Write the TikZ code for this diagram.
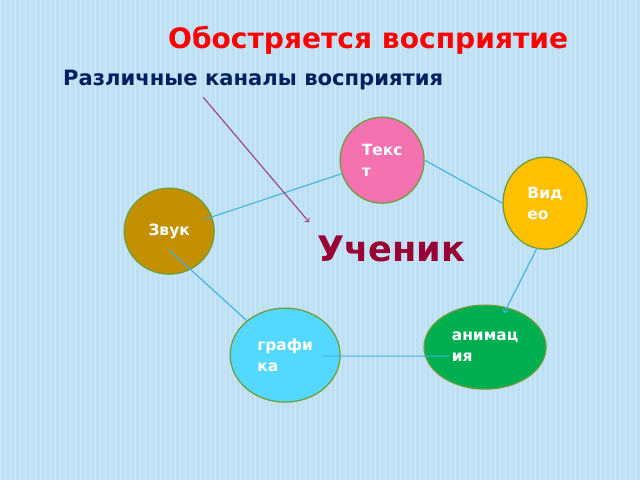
\documentclass[tikz,border=0pt]{standalone}
\usepackage{fontspec}
\setmainfont{DejaVu Sans}
\usepackage{pgf,tikz}
\usetikzlibrary{shapes.geometric, calc, arrows}

\definecolor{fon}{HTML}{BEE0F4}
\definecolor{obvod}{HTML}{6E9E3C}
\definecolor{svyaz}{HTML}{3FB2E0}
\definecolor{ukaz}{HTML}{A0408A}

\tikzset{
  krug/.style={ellipse, draw=obvod, line width=0.9pt, inner sep=0pt,
               text=white, align=left, font=\fontsize{11}{15}\selectfont\bfseries},
  svyazka/.style={draw=svyaz, line width=0.8pt}
}

\begin{document}
\begin{tikzpicture}[x=0.025cm, y=-0.025cm, >=to]

\fill[fon] (0,0) rectangle (640,480);
\foreach \i in {0,5,...,635}
  \draw[white, opacity=0.3, line width=0.35pt] (\i,0) -- (\i,480);
\useasboundingbox (0,0) rectangle (640,480);

\node[text=red, font=\fontsize{20}{24}\selectfont\bfseries] (title) at (368,40) {Обостряется восприятие};
\node[text={rgb,255:red,0;green,32;blue,96}, font=\fontsize{15}{18}\selectfont\bfseries] (kanaly) at (253,80) {Различные каналы восприятия};
\node[text={rgb,255:red,153;green,0;blue,51}, font=\fontsize{25}{30}\selectfont\bfseries] (uchenik) at (391,249) {Ученик};

\node[krug, fill={rgb,255:red,244;green,114;blue,176}, minimum width=2.1cm, minimum height=2.15cm] (tekst) at (382,160) {Текс\\т};
\node[krug, fill={rgb,255:red,255;green,192;blue,0}, minimum width=2.1cm, minimum height=2.3cm] (video) at (545,203) {Вид\\ео};
\node[krug, fill={rgb,255:red,194;green,144;blue,0}, minimum width=2.25cm, minimum height=2.15cm] (zvuk) at (169,231) {Звук};
\node[krug, fill={rgb,255:red,0;green,176;blue,80}, minimum width=3.05cm, minimum height=2.1cm] (anim) at (485,347) {анимац\\ия};
\node[krug, fill={rgb,255:red,85;green,216;blue,255}, minimum width=2.75cm, minimum height=2.35cm] (grafika) at (285,355) {графи\\ка};

% связи
\draw[svyazka, shorten <=27pt] (zvuk.center) -- (tekst);
\draw[svyazka] (tekst.east) -- (video.west);
\draw[svyazka, ->] ([xshift=-5.7pt, yshift=-32pt]video.center) -- ([xshift=13.5pt, yshift=24.2pt]anim.center);
\draw[svyazka] ([xshift=26pt, yshift=-0.7pt]grafika.center) -- ([xshift=-26pt, yshift=-6.4pt]anim.center);
\draw[svyazka] ([yshift=-13.5pt]zvuk.center) -- (grafika.138);

\coordinate (nachalo) at (203,97);
\coordinate (cel) at (309,222);
\draw[ukaz, line width=0.8pt, ->] (nachalo) -- (cel);

\end{tikzpicture}
\end{document}
